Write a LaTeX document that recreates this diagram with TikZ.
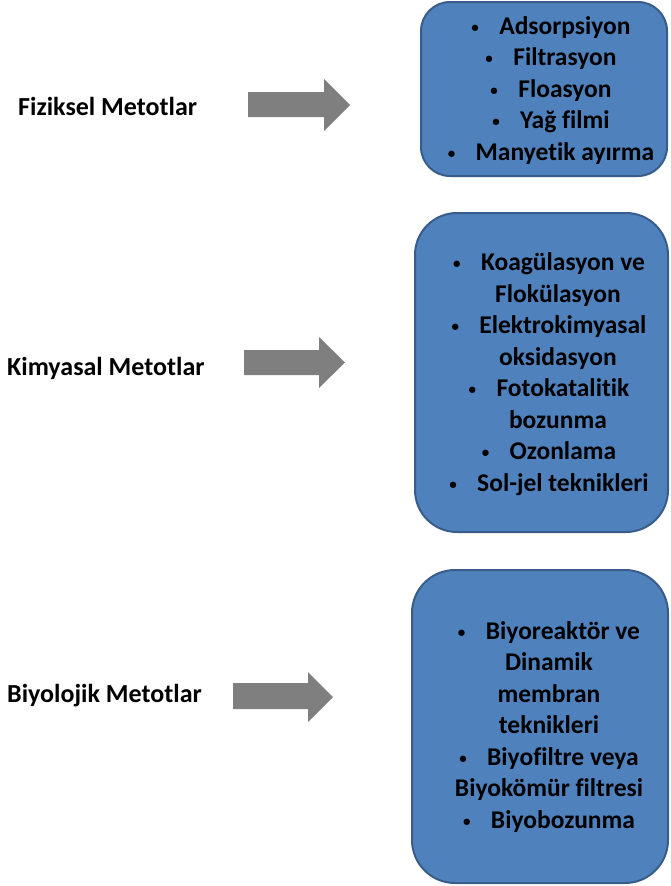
\documentclass[tikz,border=0pt]{standalone}
\usepackage{fontspec}
\setmainfont{Carlito}[Ligatures={NoCommon}, Contextuals={NoAlternate}, RawFeature={-clig;-dlig}]
\definecolor{boxfill}{HTML}{4F81BD}
\definecolor{boxline}{HTML}{385D8A}
\definecolor{arrowgray}{HTML}{7F7F7F}
\newcommand{\bul}{\raisebox{2pt}{\fontsize{15}{15}\selectfont\textbullet}\hspace{0.8em}}
\newcommand{\cont}{\hspace*{0.7em}}
\begin{document}
\begin{tikzpicture}[x=1pt,y=-1pt,
  box/.style={draw=boxline, line width=2pt, fill=boxfill, inner sep=0pt},
  boxtext/.style={align=center, inner sep=0pt, font=\fontsize{25.5}{31.5}\selectfont\bfseries, text=black},
  label/.style={inner sep=0pt, font=\fontsize{26}{31}\selectfont\bfseries, text=black},
  blockarrow/.style={fill=arrowgray, draw=none}]
\useasboundingbox (0,0) rectangle (671,886);

% boxes
\node[box, minimum width=246pt, minimum height=174pt, rounded corners=29pt] (b1) at (544,89) {};
\node[box, minimum width=253pt, minimum height=319pt, rounded corners=42pt] (b2) at (541.5,372.5) {};
\node[box, minimum width=256pt, minimum height=313pt, rounded corners=43pt] (b3) at (540,726.5) {};

% box texts
\node[boxtext] (t1) at (551,90.5) {\bul Adsorpsiyon\\ \bul Filtrasyon\\ \bul Floasyon\\ \bul Yağ filmi\\ \bul Manyetik ayırma};
\node[boxtext] (t2) at (549,374) {\bul Koagülasyon ve\\ \cont Flokülasyon\\ \bul Elektrokimyasal\\ \cont oksidasyon\\ \bul Fotokatalitik\\ \cont bozunma\\ \bul Ozonlama\\ \bul Sol-jel teknikleri};
\node[boxtext] (t3) at (549,727) {\bul Biyoreaktör ve\\ Dinamik\\ membran\\ teknikleri\\ \bul Biyofiltre veya\\ Biyokömür filtresi\\ \bul Biyobozunma};

% labels
\node[label, anchor=base west] (l1) at (18,115) {Fiziksel Metotlar};
\node[label, anchor=base west] (l2) at (7,375) {Kimyasal Metotlar};
\node[label, anchor=base west] (l3) at (7,702) {Biyolojik Metotlar};

% block arrows
\fill[blockarrow] (248,92) -- (324,92) -- (324,79) -- (350,105) -- (324,131) -- (324,117) -- (248,117) -- cycle;
\fill[blockarrow] (244,350) -- (319,350) -- (319,337) -- (345,362.5) -- (319,388) -- (319,375) -- (244,375) -- cycle;
\fill[blockarrow] (233,683) -- (308,683) -- (308,672) -- (333,697) -- (308,722) -- (308,709) -- (233,709) -- cycle;
\end{tikzpicture}
\end{document}
